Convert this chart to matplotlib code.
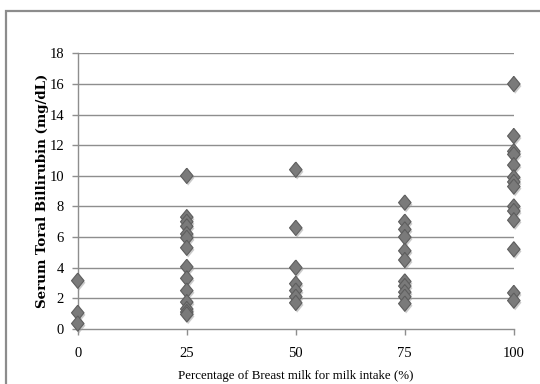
import matplotlib
matplotlib.use("Agg")
import matplotlib.pyplot as plt
import matplotlib.patheffects as pe
from matplotlib.patches import Rectangle

# breast milk share (%) and serum total bilirubin (mg/dL)
pct_0 = [3.15, 1.05, 0.35]
pct_25 = [10.0, 7.3, 7.0, 6.7, 6.2, 5.95, 5.3, 4.05, 3.3, 2.5, 1.75, 1.3, 1.1, 0.95]
pct_50 = [10.4, 6.6, 4.0, 2.95, 2.5, 2.1, 1.7]
pct_75 = [8.25, 7.0, 6.5, 6.0, 5.1, 4.5, 3.1, 2.8, 2.4, 2.1, 1.65]
pct_100 = [16.0, 12.6, 11.6, 11.4, 10.7, 9.9, 9.6, 9.3, 8.0, 7.7, 7.1, 5.2, 2.35, 1.85]

groups = {0: pct_0, 25: pct_25, 50: pct_50, 75: pct_75, 100: pct_100}
xticks = [0, 25, 50, 75, 100]
yticks = [0, 2, 4, 6, 8, 10, 12, 14, 16, 18]

xs, ys = [], []
for k, vals in groups.items():
    xs += [k] * len(vals)
    ys += vals

fig = plt.figure(figsize=(5.4, 3.84), dpi=100)
# outer frame, open to the right and bottom (display pixels from bottom-left)
fig.patches.append(Rectangle((6, -60), 600, 433, transform=None, fill=False,
                             edgecolor="#8c8c8c", linewidth=1.6))

ax = fig.add_axes([0.144, 0.1435, 0.8075, 0.7175])
ax.set_xlim(0, 100)
ax.set_ylim(0, 18)

for y in yticks[1:]:
    ax.axhline(y, color="#8e8e8e", linewidth=1.0, zorder=1)

diamond = [(0, 1), (0.82, 0), (0, -1), (-0.82, 0), (0, 1)]
ax.plot(xs, ys, linestyle="none", marker=diamond, markersize=11,
        markerfacecolor="#7a7a7a", markeredgecolor="#5e5e5e", markeredgewidth=0.8,
        clip_on=False, zorder=3,
        path_effects=[pe.SimplePatchShadow(offset=(1, -1.5), shadow_rgbFace="#999999", alpha=0.5),
                      pe.Normal()])

for s in ["top", "right"]:
    ax.spines[s].set_visible(False)
for s in ["left", "bottom"]:
    ax.spines[s].set_color("#8e8e8e")
    ax.spines[s].set_linewidth(1.0)

ax.set_xticks(xticks)
ax.set_yticks(yticks)
ax.tick_params(axis="both", direction="out", length=4, width=1.0, color="#8e8e8e",
               labelsize=10.5, pad=6)
for lab in ax.get_xticklabels() + ax.get_yticklabels():
    lab.set_family("Liberation Serif")
ax.tick_params(axis="x", pad=9)

ax.set_xlabel("Percentage of Breast milk for milk intake (%)", family="Liberation Serif",
              fontsize=9.3, labelpad=7)
ax.set_ylabel("Serum Toral Billirubin (mg/dL)", family="DejaVu Serif", fontweight="bold",
              fontsize=9.6, labelpad=0.5)

fig.savefig("out.png", dpi=100)
